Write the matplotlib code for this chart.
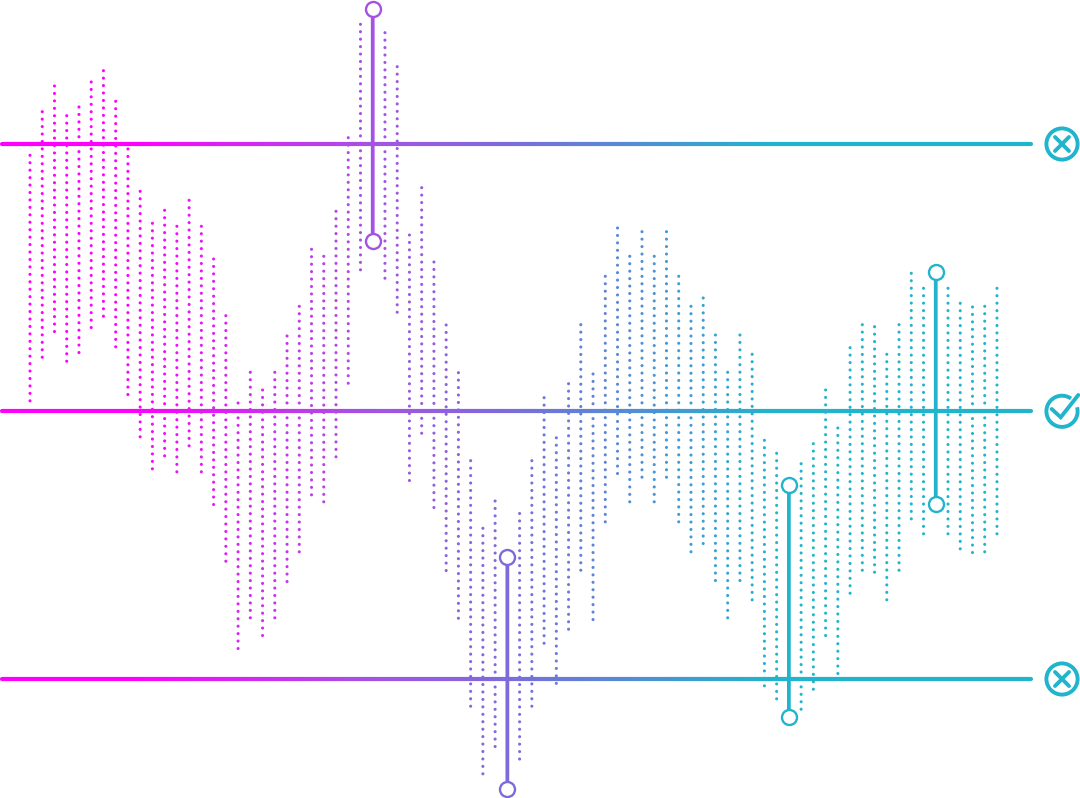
import numpy as np
import matplotlib
matplotlib.use('Agg')
import matplotlib.pyplot as plt
from matplotlib.collections import LineCollection
from matplotlib.colors import LinearSegmentedColormap, Normalize
from matplotlib.patches import Arc, Circle

# top dot of every column, 0 = middle line. None = column taken by a handle
col_high = [256.0, 299.6, 325.3, 295.6, 304.3, 329.3, 340.6, 310.0, 262.3, 220.0,
            188.0, 201.0, 185.0, 211.0, 185.0, 152.3, 95.6, 8.3, 39.0, 21.3,
            39.0, 75.3, 105.0, 162.0, 155.0, 200.0, 273.6, 387.0, None, 378.6,
            344.6, 176.3, 223.6, 149.3, 86.3, 38.6, -49.4, -117.0, -89.7, None,
            -102.2, -49.4, 13.6, -26.5, 27.6, 86.6, 37.3, 135.0, 183.3, 155.0,
            179.6, 155.0, 179.6, 135.0, 105.0, 113.3, 76.3, 39.0, 76.3, 57.0,
            -29.0, -42.0, None, -52.4, -32.4, 21.3, -16.7, 63.6, 86.6, 84.6,
            57.0, 86.6, 138.0, 123.0, None, 123.0, 108.0, 104.3, 105.0, 123.0]

# the vertical handles
handle_col = [28, 39, 62, 74]
handle_high = [402.8, -145.7, -73.2, 139.8]
handle_low = [170.3, -377.7, -305.7, -92.7]

# the three horizontal levels
level_y = [267.3, 0.0, -267.7]

dots_per_col = 34
dot_step = 7.44
col_x0 = 30.0
col_dx = 12.24

teal = '#20b5cc'
cmap = LinearSegmentedColormap.from_list(
    'grad', [(0, '#ff00ff'), (0.37, '#a552e3'), (0.58, '#7d6bdc'), (1, teal)])
norm = Normalize(130, 780)

fig = plt.figure(figsize=(10.8, 7.98), dpi=100)
ax = fig.add_axes([0, 0, 1, 1])
ax.set_xlim(0, 1080)
ax.set_ylim(-386.7, 411.3)
ax.axis('off')

# dot columns
xs = []
ys = []
for i, high in enumerate(col_high):
    if high is None:
        continue
    for k in range(dots_per_col):
        xs.append(col_x0 + i * col_dx)
        ys.append(high - k * dot_step)
ax.scatter(xs, ys, c=xs, cmap=cmap, norm=norm, s=4.8, linewidths=0, zorder=2, clip_on=False)

# gradient lines, short segments
grid = np.linspace(1.5, 1030.5, 400)
for y in level_y:
    pts = np.column_stack([grid, np.full(grid.shape, y)])
    segs = np.stack([pts[:-1], pts[1:]], axis=1)
    lc = LineCollection(segs, cmap=cmap, norm=norm, linewidths=3.0, capstyle='round', zorder=3)
    lc.set_array((grid[:-1] + grid[1:]) / 2)
    ax.add_collection(lc)

# handles
for c, hi, lo in zip(handle_col, handle_high, handle_low):
    x = col_x0 + c * col_dx
    color = cmap(norm(x))
    ax.plot([x, x], [hi, lo], color=color, lw=2.7, zorder=4, solid_capstyle='butt', snap=False)
    ax.plot([x, x], [hi, lo], ls='none', marker='o', ms=10.8, mfc='white', mec=color, mew=1.7,
            zorder=5, clip_on=False, snap=False)

# status icons at the right end
icon_x = 1062.0
icon_r = 15.6
for y in [level_y[0], level_y[2]]:
    ax.add_patch(Circle((icon_x, y), icon_r, fill=False, ec=teal, lw=2.8, zorder=5))
    for sx in [-1, 1]:
        ax.plot([icon_x - 7 * sx, icon_x + 7 * sx], [y - 7, y + 7], color=teal, lw=2.8,
                solid_capstyle='round', zorder=5)

y = level_y[1]
ax.add_patch(Arc((icon_x, y), 2 * icon_r, 2 * icon_r, theta1=55, theta2=15, ec=teal, lw=2.8, zorder=5))
ax.plot([icon_x - 10.3, icon_x - 1.3, icon_x + 16.3], [y + 2.3, y - 6, y + 16.3], color=teal, lw=2.8,
        solid_capstyle='round', solid_joinstyle='miter', zorder=5)

fig.savefig('out.png', dpi=100)
